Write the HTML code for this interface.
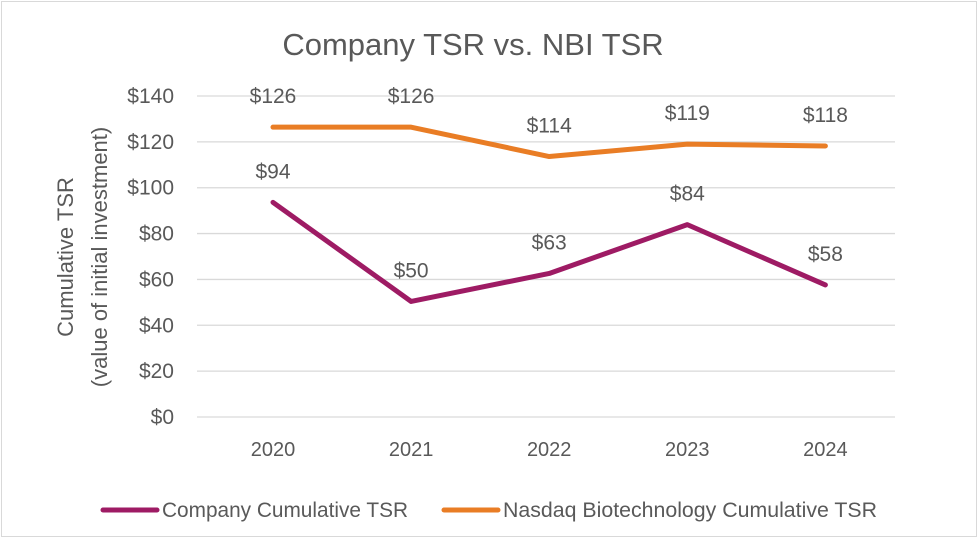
<!DOCTYPE html>
<html><head><meta charset="utf-8"><style>
html,body{margin:0;padding:0;background:#fff;}
svg text{font-family:"Liberation Sans",sans-serif;fill:#595959;}
</style></head><body>
<svg width="978" height="538" viewBox="0 0 978 538" xmlns="http://www.w3.org/2000/svg">
<rect x="1.5" y="1.5" width="975" height="535" fill="#fff" stroke="#d9d9d9" stroke-width="1"/>
<text x="473" y="55" font-size="31" text-anchor="middle">Company TSR vs. NBI TSR</text>
<g id="grid"></g>
<g id="yt"></g>
<g id="xt"></g>
<text transform="translate(82,257) rotate(-90)" font-size="22" text-anchor="middle"><tspan x="0" dy="-9">Cumulative TSR</tspan><tspan x="0" dy="34">(value of initial investment)</tspan></text>
<g id="series"></g>
<g>
<line x1="103" y1="510" x2="157" y2="510" stroke="#9e1b64" stroke-width="5" stroke-linecap="round"/>
<text x="162" y="517" font-size="21" textLength="246" lengthAdjust="spacingAndGlyphs">Company Cumulative TSR</text>
<line x1="444" y1="510" x2="498" y2="510" stroke="#e97d25" stroke-width="5" stroke-linecap="round"/>
<text x="503" y="517" font-size="21" textLength="374" lengthAdjust="spacingAndGlyphs">Nasdaq Biotechnology Cumulative TSR</text>
</g>
</svg>
<script>
const years = ["2020","2021","2022","2023","2024"];
const company = [93.6, 50.4, 62.6, 83.9, 57.6];
const nbi = [126.4, 126.4, 113.6, 119.0, 118.2];
const companyLabels = ["$94","$50","$63","$84","$58"];
const nbiLabels = ["$126","$126","$114","$119","$118"];
const yTicks = [0,20,40,60,80,100,120,140];
const NS="http://www.w3.org/2000/svg";
function y(v){return 417 - v*(321/140);}
function x(i){return 273 + i*138.1;}
function mk(t,a,p){const e=document.createElementNS(NS,t);for(const k in a)e.setAttribute(k,a[k]);p.appendChild(e);return e;}
const grid=document.getElementById('grid'), yt=document.getElementById('yt'), xt=document.getElementById('xt'), ser=document.getElementById('series');
yTicks.forEach(v=>{
  const l=mk('line',{x1:197,x2:895,y1:y(v),y2:y(v),stroke:'#d9d9d9','stroke-width':1.3},grid);
  
  
  const t=mk('text',{x:174,y:y(v)+7,'font-size':21,'text-anchor':'end'},yt);
  t.textContent='$'+v;
  
  
});
years.forEach((yr,i)=>{
  const t=mk('text',{x:x(i),y:456,'font-size':20,'text-anchor':'middle'},xt);
  t.textContent=yr;
  
  
});
function draw(vals,labels,color,name,off){
  const pts=vals.map((v,i)=>x(i)+','+y(v)).join(' ');
  const pl=mk('polyline',{points:pts,fill:'none',stroke:color,'stroke-width':5,'stroke-linecap':'round','stroke-linejoin':'round'},ser);
  
  
  vals.forEach((v,i)=>{
    const t=mk('text',{x:x(i),y:y(v)-off,'font-size':21,'text-anchor':'middle'},ser);
    t.textContent=labels[i];
    
    
  });
}
draw(nbi,nbiLabels,'#e97d25','nbi',24);
draw(company,companyLabels,'#9e1b64','company',24);
</script>
</body></html>
